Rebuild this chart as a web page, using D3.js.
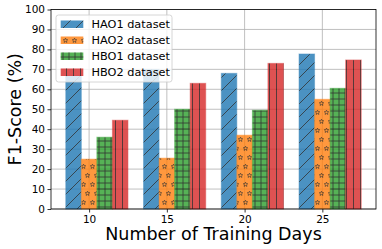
<!DOCTYPE html>
<html><head><meta charset="utf-8">
<script src="https://cdn.jsdelivr.net/npm/d3@7"></script>
<style>body{margin:0;background:#fff}svg{display:block}text{font-family:"DejaVu Sans",sans-serif}</style>
</head><body>
<script>
const days = [10, 15, 20, 25];
const seriesNames = ["HAO1 dataset", "HAO2 dataset", "HBO1 dataset", "HBO2 dataset"];
const hao1 = [67, 70, 68, 77.7];
const hao2 = [25, 25.5, 37, 55];
const hbo1 = [36, 50, 49.5, 60.5];
const hbo2 = [44.5, 63, 73, 74.7];
const yTicks = [0, 10, 20, 30, 40, 50, 60, 70, 80, 90, 100];
const colors = ["#1f77b4", "#ff7f0e", "#2ca02c", "#d62728"];
const offsets = [-1, 0, 1, 2];
const allSeries = [hao1, hao2, hbo1, hbo2];

const W = 382, H = 249;
const svg = d3.select("body").append("svg").attr("width", W).attr("height", H);
const L = 51, R = 376, T = 9.5, B = 209;
const x = d3.scaleLinear().domain([7.55, 28.45]).range([L, R]);
const y = d3.scaleLinear().domain([0, 100]).range([B, T]);

// patterns
const defs = svg.append("defs");
const hc = "#000";
function pat(id, w, h, draw) {
  const p = defs.append("pattern").attr("id", id).attr("patternUnits", "userSpaceOnUse")
    .attr("width", w).attr("height", h).attr("x", 0).attr("y", 0);
  draw(p);
}
pat("h0", 13, 13, p => {
  p.append("path").attr("d", "M-1,14 L14,-1").attr("stroke", hc).attr("stroke-width", 0.8).attr("fill", "none");
});
function starPath(cx, cy, r) {
  let d = "";
  for (let i = 0; i < 10; i++) {
    const a = -Math.PI / 2 + i * Math.PI / 5;
    const rr = i % 2 ? r * 0.45 : r;
    d += (i ? "L" : "M") + (cx + rr * Math.cos(a)).toFixed(2) + "," + (cy + rr * Math.sin(a)).toFixed(2);
  }
  return d + "Z";
}
pat("h1", 9, 18, p => {
  [[2.5, 4.5], [6.5, 13.5], [11.5, 4.5], [-2.5, 13.5], [-6.5,4.5]].forEach(([cx, cy]) =>
    p.append("path").attr("d", starPath(cx, cy, 2.4)).attr("stroke", hc).attr("stroke-width", 0.6).attr("fill", "none"));
});
pat("h2", 6, 6, p => {
  p.append("path").attr("d", "M3,0 V6 M0,3 H6").attr("stroke", hc).attr("stroke-width", 0.8).attr("fill", "none");
});
pat("h3", 7, 7, p => {
  p.append("path").attr("d", "M3.5,0 V7").attr("stroke", hc).attr("stroke-width", 0.8).attr("fill", "none");
});

// grid
const g = svg.append("g");
g.selectAll(".gy").data(yTicks).join("line")
  .attr("x1", L).attr("x2", R).attr("y1", d => y(d)).attr("y2", d => y(d))
  .attr("stroke", "#b0b0b0").attr("stroke-width", 0.8);
g.selectAll(".gx").data(days).join("line")
  .attr("y1", T).attr("y2", B).attr("x1", d => x(d)).attr("x2", d => x(d))
  .attr("stroke", "#b0b0b0").attr("stroke-width", 0.8);

// bars
allSeries.forEach((vals, si) => {
  const grp = svg.append("g").attr("opacity", 0.8);
  grp.selectAll("rect.f").data(vals).join("rect")
    .attr("x", (d, i) => x(days[i] + offsets[si] - 0.5))
    .attr("width", (d, i) => x(days[i] + offsets[si] + 0.5) - x(days[i] + offsets[si] - 0.5))
    .attr("y", d => y(d)).attr("height", d => B - y(d))
    .attr("fill", colors[si]);
  grp.selectAll("rect.h").data(vals).join("rect")
    .attr("x", (d, i) => x(days[i] + offsets[si] - 0.5))
    .attr("width", (d, i) => x(days[i] + offsets[si] + 0.5) - x(days[i] + offsets[si] - 0.5))
    .attr("y", d => y(d)).attr("height", d => B - y(d))
    .attr("fill", `url(#h${si})`).attr("stroke", colors[si]).attr("stroke-opacity", 0.5).attr("stroke-width", 1);
});

// axes
const ax = svg.append("g").attr("transform", `translate(0,${B})`)
  .call(d3.axisBottom(x).tickValues(days).tickSize(3.5).tickPadding(3));
const ay = svg.append("g").attr("transform", `translate(${L},0)`)
  .call(d3.axisLeft(y).tickValues(yTicks).tickSize(3.5).tickPadding(2.5));
[ax, ay].forEach(a => {
  a.select(".domain").remove();
  a.selectAll("text").attr("font-size", "10.5px").attr("fill", "#000").attr("font-family", "DejaVu Sans");
  a.selectAll("line").attr("stroke", "#000").attr("stroke-width", 0.8);
});
svg.append("rect").attr("x", L).attr("y", T).attr("width", R - L).attr("height", B - T)
  .attr("fill", "none").attr("stroke", "#000").attr("stroke-width", 0.8);

// titles
svg.append("text").attr("x", (L + R) / 2).attr("y", 240).attr("text-anchor", "middle")
  .attr("font-size", "17.5px").attr("fill", "#000").text("Number of Training Days");
svg.append("text").attr("transform", `translate(21,${(T + B) / 2}) rotate(-90)`).attr("text-anchor", "middle")
  .attr("font-size", "17.5px").attr("fill", "#000").text("F1-Score (%)");

// legend
const lg = svg.append("g");
lg.append("rect").attr("x", 56).attr("y", 15).attr("width", 116).attr("height", 67).attr("rx", 2.5)
  .attr("fill", "#fff").attr("fill-opacity", 0.8).attr("stroke", "#ccc").attr("stroke-width", 0.8);
seriesNames.forEach((name, i) => {
  const cy = 24 + i * 16;
  const gg = lg.append("g").attr("opacity", 0.8);
  gg.append("rect").attr("x", 60.7).attr("y", cy - 3.5).attr("width", 22.6).attr("height", 7.5).attr("fill", colors[i]);
  gg.append("rect").attr("x", 60.7).attr("y", cy - 3.5).attr("width", 22.6).attr("height", 7.5).attr("fill", `url(#h${i})`);
  lg.append("text").attr("x", 91.5).attr("y", cy + 4).attr("font-size", "11.3px").attr("fill", "#000").text(name);
});
</script>
</body></html>
